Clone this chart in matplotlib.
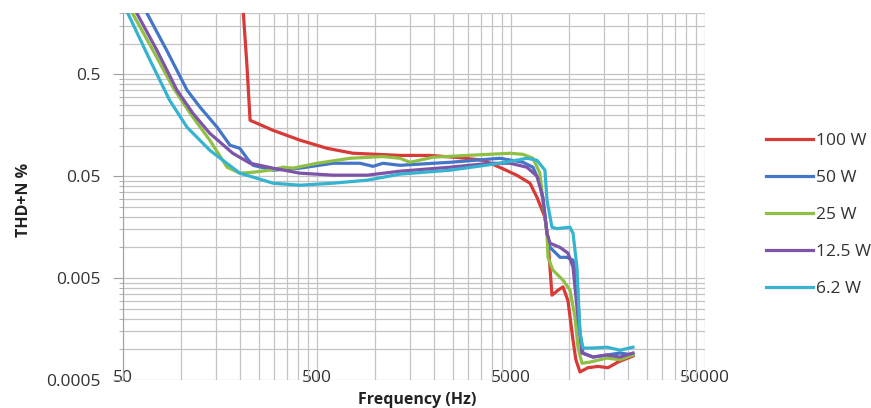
import matplotlib
matplotlib.use("Agg")
import matplotlib.pyplot as plt
from matplotlib.ticker import LogLocator, FuncFormatter, NullFormatter

plt.rcParams['font.family'] = ['Open Sans', 'DejaVu Sans']

labels = ['100 W', '50 W', '25 W', '12.5 W', '6.2 W']
colors = ['#D83A37', '#4376C8', '#8FC045', '#7D54A8', '#35B3CF']

# frequency (Hz) / THD+N (%)
f_100 = [207, 218, 226, 297, 408, 563, 767, 1019, 1339, 1909, 2729, 3588, 4385, 5371,
         6266, 6806, 7480, 7758, 8131, 8736, 9269, 9833, 10440, 10800, 11340, 12470,
         14040, 15810, 17800, 21280]
thd_100 = [2.5, 0.586, 0.177, 0.141, 0.113, 0.094, 0.084, 0.082, 0.080, 0.080, 0.076,
           0.0717, 0.061, 0.051, 0.0427, 0.031, 0.0198, 0.0118, 0.0034, 0.0038, 0.0041,
           0.003, 0.00123, 0.00079, 0.0006, 0.00066, 0.00068, 0.00066, 0.00075, 0.00086]

f_50 = [60, 66.5, 84, 107, 125, 153, 178, 200, 218, 234, 297, 408, 604, 833, 972, 1094,
        1339, 2426, 4385, 5766, 6490, 7046, 7305, 7667, 7946, 8950, 9720, 10440, 10940,
        11340, 11750, 13240, 15620, 18230, 21280]
thd_50 = [3.0, 1.98, 0.86, 0.349, 0.237, 0.151, 0.1007, 0.094, 0.075, 0.064, 0.0573,
          0.060, 0.067, 0.067, 0.0625, 0.067, 0.064, 0.0685, 0.075, 0.0685, 0.0613,
          0.0427, 0.0291, 0.0138, 0.010, 0.0080, 0.0080, 0.0075, 0.00447, 0.00145,
          0.00092, 0.00084, 0.00088, 0.00092, 0.00088]

f_25 = [52, 56, 71.4, 90.5, 111, 140, 172, 200, 234, 286, 334, 376, 500, 740, 1094,
        1339, 1508, 1981, 2965, 4943, 5766, 6490, 7046, 7305, 7667, 7758, 8220, 9269,
        10071, 10690, 11070, 11610, 12770, 15620, 18230, 21280]
thd_25 = [2.6, 1.98, 0.86, 0.373, 0.207, 0.113, 0.0613, 0.0536, 0.0547, 0.0573, 0.0613,
          0.060, 0.067, 0.075, 0.078, 0.075, 0.0685, 0.0768, 0.080, 0.084, 0.082, 0.075,
          0.0536, 0.0291, 0.0138, 0.008, 0.006, 0.00477, 0.00381, 0.00207, 0.00105,
          0.00073, 0.00075, 0.00082, 0.00079, 0.00088]

f_12 = [54, 59, 74.8, 94.9, 114.7, 140, 184, 226, 297, 408, 604, 907, 1339, 2426, 3896,
        4943, 6040, 6806, 7305, 7667, 7946, 8950, 9833, 10440, 11070, 11610, 13240,
        15620, 18230, 21280]
thd_12 = [2.6, 1.98, 0.86, 0.349, 0.207, 0.132, 0.084, 0.067, 0.060, 0.0536, 0.0512,
          0.0512, 0.056, 0.0613, 0.067, 0.067, 0.0613, 0.050, 0.031, 0.0138, 0.011,
          0.010, 0.0088, 0.0064, 0.00207, 0.00092, 0.00084, 0.00088, 0.00084, 0.00092]

f_6 = [50, 53, 69, 87, 107, 140, 200, 297, 408, 604, 907, 1339, 2426, 4385, 6040, 6806,
       7480, 7667, 8131, 8630, 10071, 10440, 10940, 11340, 11750, 13240, 15620, 18230,
       21280]
thd_6 = [2.6, 1.98, 0.686, 0.278, 0.151, 0.090, 0.0536, 0.0427, 0.0408, 0.0427, 0.0457,
         0.0524, 0.0573, 0.067, 0.075, 0.0717, 0.0573, 0.0291, 0.0158, 0.0153, 0.0158,
         0.0138, 0.0064, 0.00145, 0.00103, 0.00103, 0.00105, 0.00098, 0.00105]

series = [(f_100, thd_100), (f_50, thd_50), (f_25, thd_25), (f_12, thd_12), (f_6, thd_6)]

fig = plt.figure(figsize=(8.71, 4.08), dpi=100)
ax = fig.add_axes([0.1412, 0.0686, 0.6682, 0.8996])

for (fx, fy), lab, col in zip(series, labels, colors):
    ax.plot(fx, fy, color=col, lw=2.3, label=lab, solid_joinstyle='round')

ax.set_xscale('log')
ax.set_yscale('log')
ax.set_xlim(50, 50000)
ax.set_ylim(0.0005, 2.0)

subs_minor = (1, 1.5, 2, 2.5, 3, 3.5, 4, 4.5)
ax.xaxis.set_major_locator(LogLocator(base=10, subs=(5,)))
ax.xaxis.set_minor_locator(LogLocator(base=10, subs=subs_minor, numticks=20))
ax.yaxis.set_major_locator(LogLocator(base=10, subs=(5,)))
ax.yaxis.set_minor_locator(LogLocator(base=10, subs=subs_minor, numticks=20))
fmt = FuncFormatter(lambda v, p: '%g' % v)
ax.xaxis.set_major_formatter(fmt)
ax.yaxis.set_major_formatter(fmt)
ax.xaxis.set_minor_formatter(NullFormatter())
ax.yaxis.set_minor_formatter(NullFormatter())

ax.grid(True, which='both', color='#C4C4C4', lw=0.9)
ax.set_axisbelow(True)
for s in ['top', 'right', 'bottom']:
    ax.spines[s].set_visible(False)
ax.spines['left'].set_color('#A0A0A0')

ax.tick_params(axis='x', which='both', length=0, pad=-7, labelsize=12.5, labelcolor='#333333')
ax.tick_params(axis='y', which='major', length=7, pad=9, color='#A0A0A0',
               labelsize=12.5, labelcolor='#333333')
ax.tick_params(axis='y', which='minor', length=3, color='#A0A0A0')

fig.text(0.027, 0.51, 'THD+N %', rotation=90, ha='center', va='center',
         fontsize=11.5, fontweight='bold', color='#222222')
fig.text(0.479, 0.02, 'Frequency (Hz)', ha='center', va='center',
         fontsize=11.5, fontweight='bold', color='#222222')

fig.legend(loc='center left', bbox_to_anchor=(0.8795, 0.473), frameon=False,
           fontsize=12.5, handlelength=2.7, handletextpad=0.15, labelspacing=1.2,
           borderpad=0, borderaxespad=0, labelcolor='#333333')

fig.savefig('out.png', dpi=100)
